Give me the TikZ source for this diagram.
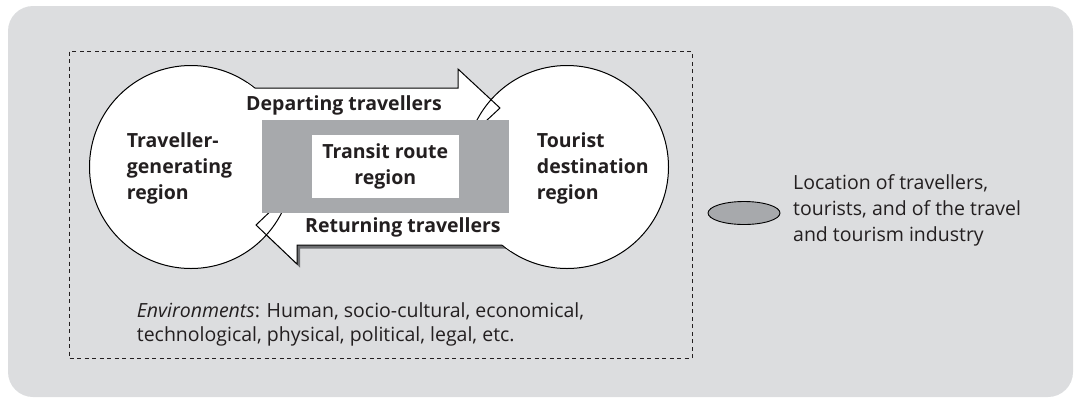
\documentclass[tikz,border=0pt]{standalone}
\usepackage{fontspec}
\setmainfont{Open Sans}
\usetikzlibrary{positioning,shapes.geometric}

\definecolor{panelgray}{HTML}{DCDDDF}
\definecolor{routegray}{HTML}{A7A9AC}
\definecolor{shadowgray}{HTML}{6D6E71}
\definecolor{inkblack}{HTML}{231F20}

% outlines of the two flows
\newcommand{\departpath}{(191,88) -- (458,88) -- (458,69) -- (500,108) -- (458,147) -- (458,128) -- (191,128) -- cycle}
\newcommand{\returnpath}{(567,205) -- (297,205) -- (297,186) -- (256,225) -- (297,264) -- (297,245) -- (567,245) -- cycle}
\newcommand{\departhead}{(458,69) -- (500,108) -- (458,147) -- cycle}
\newcommand{\returnhead}{(297,186) -- (256,225) -- (297,264) -- cycle}

\tikzset{
  region/.style={circle, draw=black, line width=1pt, fill=white, minimum size=203pt, inner sep=0pt},
  flow/.style={draw=black, line width=1pt, fill=white, line join=miter},
  plaintext/.style={font=\fontsize{19.5}{26}\selectfont, text=inkblack, inner sep=0pt, align=left},
  boldtext/.style={plaintext, font=\fontsize{19.5}{26}\selectfont\bfseries}
}

\begin{document}
\begin{tikzpicture}[x=1pt, y=-1pt]
  \useasboundingbox (0,0) rectangle (1075,400);
  \fill[panelgray, rounded corners=25pt] (8,6) rectangle (1073,397);
  \draw[inkblack, line width=0.9pt, dash pattern=on 4pt off 3.5pt] (69,51.5) rectangle (692,358.3);

  \coordinate (gc) at (191,167);
  \coordinate (dc) at (567,167);

  % shadows
  \begin{scope}[shift={(3,3.5)}, shadowgray]
    \fill (gc) circle[radius=101.5pt];
    \fill (dc) circle[radius=101.5pt];
    \fill \departpath;
    \fill \returnpath;
  \end{scope}

  \node[region] (gen) at (gc) {};
  \node[region] (dest) at (dc) {};

  % departing flow, merged with the generating region
  \filldraw[flow] \departpath;
  \begin{scope}
    \clip (185,83) rectangle (458,133);
    \fill[white] (gen.center) circle[radius=100.9pt];
  \end{scope}

  % returning flow, merged with the destination region
  \filldraw[flow] \returnpath;
  \begin{scope}
    \clip (297,200) rectangle (575,250);
    \fill[white] (dest.center) circle[radius=100.9pt];
  \end{scope}

  % region outlines seen through the arrow heads
  \begin{scope}
    \clip \departhead;
    \draw[line width=1pt] (dest.center) circle[radius=101.5pt];
  \end{scope}
  \begin{scope}
    \clip \returnhead;
    \draw[line width=1pt] (gen.center) circle[radius=101.5pt];
  \end{scope}

  \node[fill=routegray, minimum width=246.7pt, minimum height=92.7pt, inner sep=0pt] (route) at (385.3,166.4) {};
  \node[boldtext, fill=white, align=center, minimum width=146.7pt, minimum height=63.4pt] (transit) at (route.center) {Transit route\\region};

  \begin{scope}[every node/.style={boldtext}]
    \node[anchor=north west] (gentext) at (126.7,132) {Traveller-\\generating\\region};
    \node[anchor=north west] (desttext) at (536.7,132) {Tourist\\destination\\region};
    \node[anchor=base west] (departing) at (246,110) {Departing travellers};
    \node[anchor=base west] (returning) at (305,232.3) {Returning travellers};
  \end{scope}

  \node[plaintext, anchor=north west, font=\fontsize{19.5}{24.4}\selectfont] (env) at (136.7,302.5)
    {\textit{Environments}: Human, socio-cultural, economical,\\technological, physical, political, legal, etc.};

  % legend
  \node[ellipse, draw=black, line width=0.9pt, fill=routegray, minimum width=72pt, minimum height=23pt, inner sep=0pt] (loc) at (744,213) {};
  \node[plaintext, right=12.5pt of loc, yshift=2.5pt] (loctext)
    {Location of travellers,\\tourists, and of the travel\\and tourism industry};
\end{tikzpicture}
\end{document}
